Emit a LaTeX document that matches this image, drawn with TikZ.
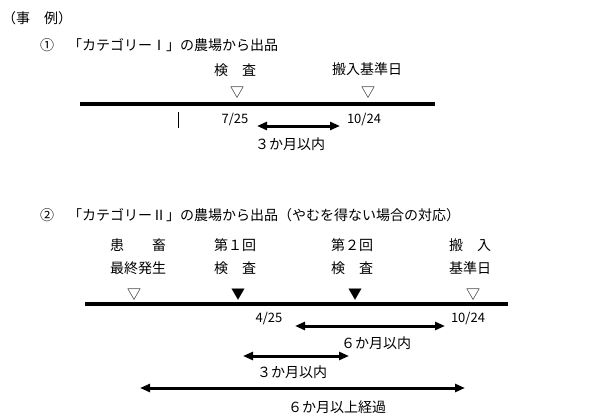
\documentclass[tikz,border=0pt]{standalone}
\usepackage{fontspec}
\setmainfont{Noto Sans CJK JP}
\newfontfamily\jpfull[CharacterWidth=Full,Kerning=Off]{Noto Sans CJK JP}
\usetikzlibrary{arrows.meta}
\begin{document}
\begin{tikzpicture}[x=1pt,y=-1pt,
  txt/.style={inner sep=0pt,font=\jpfull\fontsize{14}{16}\selectfont},
  num/.style={inner sep=0pt,font=\fontsize{13}{15}\selectfont},
  tri/.style={inner sep=0pt,font=\fontsize{14}{16}\selectfont},
  axis/.style={line width=3.5pt},
  span/.style={line width=3pt,{Triangle[length=10pt,width=8pt]}-{Triangle[length=10pt,width=8pt]}}]
\useasboundingbox (0,0) rectangle (592,420);
% header
\node[txt,anchor=west] (hdr) at (2,18) {（事　例）};
% section 1
\node[txt,anchor=west] (t1) at (40,45) {①　「カテゴリーⅠ」の農場から出品};
\node[txt] (k1) at (235,70) {検　査};
\node[txt] (h1) at (367,69) {搬入基準日};
\node[tri] (m1a) at (237,93) {▽};
\node[tri] (m1b) at (368,93) {▽};
\coordinate (l1s) at (80,104);
\coordinate (l1e) at (435,104);
\draw[axis] (l1s) -- (l1e);
\coordinate (tk1) at (178,112);
\coordinate (tk2) at (178,128);
\draw[line width=1pt] (tk1) -- (tk2);
\node[num] (d1a) at (235,120) {7/25};
\node[num] (d1b) at (364,120) {10/24};
\coordinate (a1s) at (257,126);
\coordinate (a1e) at (340,126);
\draw[span] (a1s) -- (a1e);
\node[txt] (s1) at (290,144) {３か月以内};
% section 2
\node[txt,anchor=west] (t2) at (40,215) {②　「カテゴリーⅡ」の農場から出品（やむを得ない場合の対応）};
\node[txt] (p1) at (138,245) {患　　畜};
\node[txt] (p2) at (138,268) {最終発生};
\node[txt] (q1) at (235,245) {第１回};
\node[txt] (q2) at (235,268) {検　査};
\node[txt] (r1) at (352,245) {第２回};
\node[txt] (r2) at (352,268) {検　査};
\node[txt] (u1) at (470,245) {搬　入};
\node[txt] (u2) at (470,268) {基準日};
\node[tri] (m2a) at (134,295) {▽};
\node[tri] (m2b) at (238,295) {▼};
\node[tri] (m2c) at (355,295) {▼};
\node[tri] (m2d) at (473,295) {▽};
\coordinate (l2s) at (85,304);
\coordinate (l2e) at (508,304);
\draw[axis] (l2s) -- (l2e);
\node[num] (d2a) at (269,319) {4/25};
\node[num] (d2b) at (468,319) {10/24};
\coordinate (a2s) at (295,326);
\coordinate (a2e) at (445,326);
\draw[span] (a2s) -- (a2e);
\node[txt] (s2) at (376,343) {６か月以内};
\coordinate (a3s) at (243,356);
\coordinate (a3e) at (349,356);
\draw[span] (a3s) -- (a3e);
\node[txt] (s3) at (292,372) {３か月以内};
\coordinate (a4s) at (140,388);
\coordinate (a4e) at (465,388);
\draw[span] (a4s) -- (a4e);
\node[txt] (s4) at (337,407) {６か月以上経過};
\end{tikzpicture}
\end{document}
